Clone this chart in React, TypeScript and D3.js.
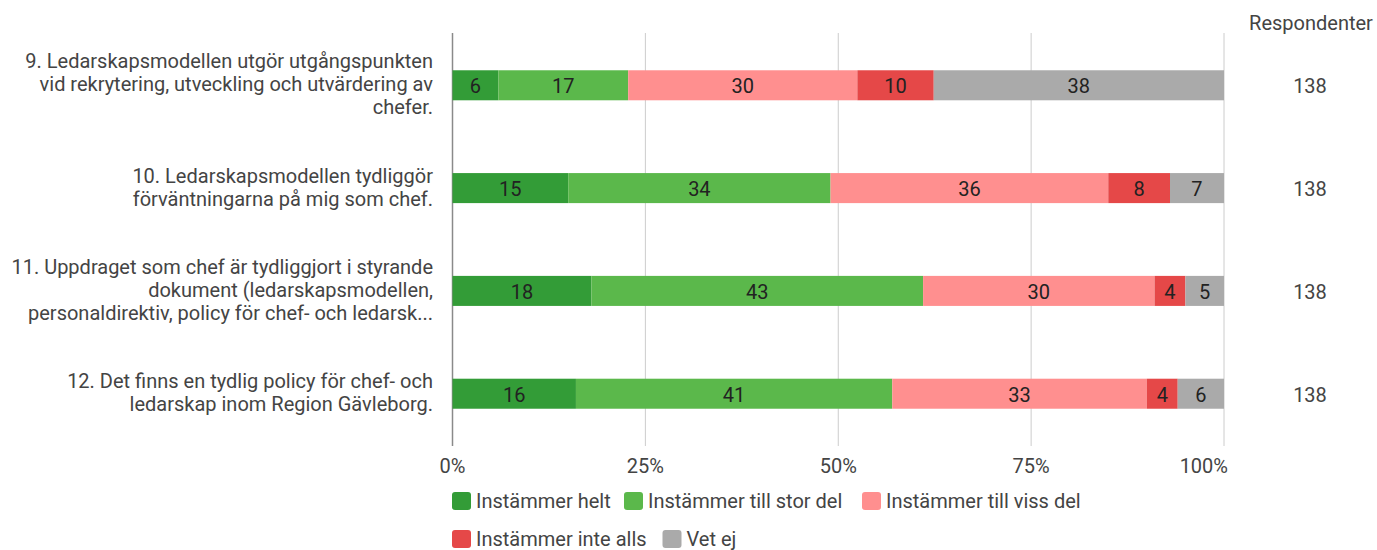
import React from "react";
import * as d3 from "d3";

const questions: string[][] = [
  ["9. Ledarskapsmodellen utgör utgångspunkten", "vid rekrytering, utveckling och utvärdering av", "chefer."],
  ["10. Ledarskapsmodellen tydliggör", "förväntningarna på mig som chef."],
  ["11. Uppdraget som chef är tydliggjort i styrande", "dokument (ledarskapsmodellen,", "personaldirektiv, policy för chef- och ledarsk..."],
  ["12. Det finns en tydlig policy för chef- och", "ledarskap inom Region Gävleborg."],
];
const questionIds = ["q9", "q10", "q11", "q12"];

const seriesNames = ["Instämmer helt", "Instämmer till stor del", "Instämmer till viss del", "Instämmer inte alls", "Vet ej"];
const seriesColors = ["#339c37", "#5bb84b", "#ff8f8f", "#e54848", "#aaaaaa"];

const instammerHelt = [6, 15, 18, 16];
const tillStorDel = [17, 34, 43, 41];
const tillVissDel = [30, 36, 30, 33];
const inteAlls = [10, 8, 4, 4];
const vetEj = [38, 7, 5, 6];
const respondenter = [138, 138, 138, 138];

const tickValues = [0, 0.25, 0.5, 0.75, 1];
const tickLabels = ["0%", "25%", "50%", "75%", "100%"];

const FONT = "Roboto, 'Noto Sans', sans-serif";
const FS = 20;

export default function App() {
  const W = 1377, H = 550;
  const x = d3.scaleLinear().domain([0, 1]).range([452.5, 1224]);
  const y = d3.scaleBand<string>().domain(questionIds).range([33, 446]).paddingInner(0.708).paddingOuter(0.3625);

  const seriesVals = [instammerHelt, tillStorDel, tillVissDel, inteAlls, vetEj];
  const rows = questionIds.map((id, i) => {
    const vals = seriesVals.map((s) => s[i]);
    const total = d3.sum(vals);
    const stackEnds = d3.cumsum(vals);
    return vals.map((v, k) => ({
      id, k, v,
      x0: (stackEnds[k] - v) / total,
      x1: stackEnds[k] / total,
    }));
  });

  const legendRows = [
    [{ k: 0, x: 452 }, { k: 1, x: 624 }, { k: 2, x: 862 }],
    [{ k: 3, x: 452 }, { k: 4, x: 662.5 }],
  ];
  const legendY = [501, 539];

  return (
    <svg width={W} height={H} style={{ position: "absolute", left: 0, top: 0, display: "block" }} fontFamily={FONT}>
      <rect width={W} height={H} fill="#ffffff" />
      {tickValues.map((t, i) => (
        <line key={"g" + i} x1={x(t)} x2={x(t)} y1={33} y2={446} stroke={i === 0 ? "#8a8a8a" : "#cccccc"} strokeWidth={i === 0 ? 1.5 : 1} />
      ))}
      {tickValues.map((t, i) => (
        <text key={"t" + i} x={i === tickValues.length - 1 ? x(t) + 4 : x(t)} y={466} textAnchor={i === tickValues.length - 1 ? "end" : "middle"} dominantBaseline="central" fontSize={FS} fill="#444444">
          {tickLabels[i]}
        </text>
      ))}
      {rows.map((segs, i) => {
        const by = y(questionIds[i])!;
        const bh = y.bandwidth();
        return (
          <g key={"r" + i}>
            {segs.map((s) => (
              <rect key={s.k} x={x(s.x0)} y={by} width={x(s.x1) - x(s.x0)} height={bh} fill={seriesColors[s.k]} />
            ))}
            {segs.map((s) => (
              <text key={"l" + s.k} x={(x(s.x0) + x(s.x1)) / 2} y={by + bh / 2 + 1} textAnchor="middle" dominantBaseline="central" fontSize={FS} fill="#222222">
                {s.v}
              </text>
            ))}
            {questions[i].map((line, j) => (
              <text key={"q" + j} x={433} y={by + bh / 2 - 1 + (j - (questions[i].length - 1) / 2) * 23} textAnchor="end" dominantBaseline="central" fontSize={FS} fill="#444444">
                {line}
              </text>
            ))}
            <text x={1310} y={by + bh / 2 + 1} textAnchor="middle" dominantBaseline="central" fontSize={FS} fill="#444444">
              {respondenter[i]}
            </text>
          </g>
        );
      })}
      <text x={1311} y={23} textAnchor="middle" dominantBaseline="central" fontSize={FS} fill="#444444">Respondenter</text>
      {legendRows.map((row, r) =>
        row.map((it) => (
          <g key={"lg" + r + it.k}>
            <rect x={it.x} y={legendY[r] - 9} width={19} height={18} rx={3} fill={seriesColors[it.k]} />
            <text x={it.x + 24} y={legendY[r]} dominantBaseline="central" fontSize={FS} fill="#444444">
              {seriesNames[it.k]}
            </text>
          </g>
        ))
      )}
    </svg>
  );
}
